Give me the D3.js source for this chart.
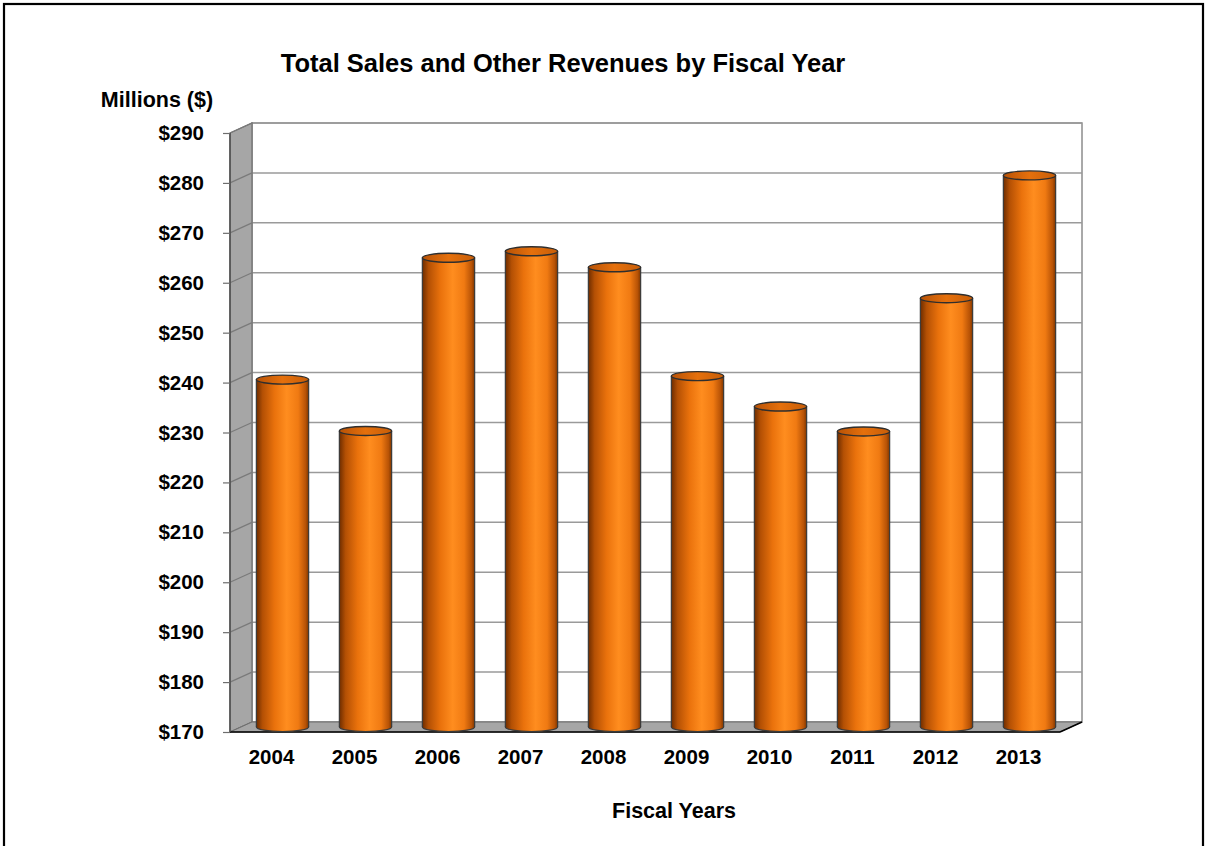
<!DOCTYPE html>
<html>
<head>
<meta charset="utf-8">
<script src="https://cdn.jsdelivr.net/npm/d3@7"></script>
<style>
  html, body { margin: 0; padding: 0; background: #fff; }
  svg { display: block; font-family: "Liberation Sans", Arial, sans-serif; }
</style>
</head>
<body>
<svg id="chart" width="1206" height="846"></svg>
<script>
// Fiscal-year revenue, millions of dollars
const years = ["2004", "2005", "2006", "2007", "2008", "2009", "2010", "2011", "2012", "2013"];
const revenues = [239.6, 229.3, 264.0, 265.3, 262.1, 240.3, 234.2, 229.2, 255.9, 280.5];
const yTicks = [170, 180, 190, 200, 210, 220, 230, 240, 250, 260, 270, 280, 290];

const svg = d3.select("#chart");

// Outer frame
svg.append("rect")
  .attr("x", 4).attr("y", 4).attr("width", 1199).attr("height", 850)
  .attr("fill", "#fff").attr("stroke", "#000").attr("stroke-width", 2.2);

// 3D box geometry: back wall plus a depth offset toward the viewer
const depth = { dx: -22, dy: 10 };
const back = { left: 252, right: 1082, top: 123, bottom: 722 };

const y = d3.scaleLinear().domain([170, 290]).range([back.bottom, back.top]);
const x = d3.scaleBand().domain(years)
  .range([back.left + depth.dx, back.right + depth.dx]).padding(0);

// Back wall
svg.append("rect")
  .attr("x", back.left).attr("y", back.top)
  .attr("width", back.right - back.left).attr("height", back.bottom - back.top)
  .attr("fill", "#fff").attr("stroke", "#8c8c8c").attr("stroke-width", 1.5);

// Horizontal gridlines on back wall
svg.append("g").selectAll("line").data(yTicks).join("line")
  .attr("x1", back.left).attr("x2", back.right)
  .attr("y1", d => y(d)).attr("y2", d => y(d))
  .attr("stroke", "#9a9a9a").attr("stroke-width", 1.5);

// Left side wall
const fl = back.left + depth.dx;
svg.append("path")
  .attr("d", `M${fl},${y(290) + depth.dy} L${back.left},${y(290)} L${back.left},${y(170)} L${fl},${y(170) + depth.dy} Z`)
  .attr("fill", "#a6a6a6").attr("stroke", "#6e6e6e").attr("stroke-width", 1.2);

// Gridlines continuing across the side wall
svg.append("g").selectAll("line").data(yTicks).join("line")
  .attr("x1", fl).attr("x2", back.left)
  .attr("y1", d => y(d) + depth.dy).attr("y2", d => y(d))
  .attr("stroke", "#7a7a7a").attr("stroke-width", 1.2);

// Floor
const fr = back.right + depth.dx;
svg.append("path")
  .attr("d", `M${fl},${y(170) + depth.dy} L${back.left},${y(170)} L${back.right},${y(170)} L${fr},${y(170) + depth.dy} Z`)
  .attr("fill", "#a6a6a6").attr("stroke", "#6e6e6e").attr("stroke-width", 1);
svg.append("line")
  .attr("x1", fl).attr("x2", fr)
  .attr("y1", y(170) + depth.dy).attr("y2", y(170) + depth.dy)
  .attr("stroke", "#000").attr("stroke-width", 1.5);
svg.append("line")
  .attr("x1", fr).attr("x2", back.right)
  .attr("y1", y(170) + depth.dy).attr("y2", y(170))
  .attr("stroke", "#000").attr("stroke-width", 1.5);

// Front vertical axis line
svg.append("line")
  .attr("x1", fl).attr("x2", fl)
  .attr("y1", y(290) + depth.dy).attr("y2", y(170) + depth.dy)
  .attr("stroke", "#4d4d4d").attr("stroke-width", 1.5);

// Y axis ticks and labels on the front plane
const yFront = d3.scaleLinear().domain(y.domain()).range(y.range().map(v => v + depth.dy));
const yAxis = d3.axisLeft(yFront).tickValues(yTicks).tickSize(7).tickPadding(19)
  .tickFormat(d => "$" + d);
const gy = svg.append("g").attr("transform", `translate(${fl},0)`).call(yAxis);
gy.select(".domain").remove();
gy.selectAll(".tick line").attr("stroke", "#6e6e6e").attr("stroke-width", 1.2);
gy.selectAll(".tick text")
  .attr("font-size", 20.5).attr("font-weight", "bold").attr("fill", "#000")
  .attr("font-family", "Liberation Sans, Arial, sans-serif");

// X axis labels
const xAxis = d3.axisBottom(x).tickSize(0).tickPadding(17);
const gx = svg.append("g").attr("transform", `translate(0,${y(170) + depth.dy})`).call(xAxis);
gx.select(".domain").remove();
gx.selectAll(".tick text")
  .attr("font-size", 20.5).attr("font-weight", "bold").attr("fill", "#000")
  .attr("font-family", "Liberation Sans, Arial, sans-serif");

// Cylinder shading
const defs = svg.append("defs");
const grad = defs.append("linearGradient").attr("id", "cyl")
  .attr("x1", "0%").attr("x2", "100%").attr("y1", "0%").attr("y2", "0%");
[[0, "#6e2d00"], [0.12, "#b45004"], [0.35, "#ea720c"], [0.58, "#ff8d1f"], [0.8, "#f07a12"], [0.94, "#b85306"], [1, "#7f3700"]]
  .forEach(([o, c]) => grad.append("stop").attr("offset", o).attr("stop-color", c));
const topGrad = defs.append("linearGradient").attr("id", "cylTop")
  .attr("x1", "0%").attr("x2", "100%").attr("y1", "0%").attr("y2", "0%");
[[0, "#b85206"], [0.5, "#e5700c"], [1, "#c85e08"]]
  .forEach(([o, c]) => topGrad.append("stop").attr("offset", o).attr("stop-color", c));

// Bars sit halfway into the box depth
const barW = x.bandwidth() * 0.63;
const rx = barW / 2, ry = 4.5;
const cx = d => x(d) + x.bandwidth() / 2 + depth.dx / -2;
const yMid = v => y(v) + depth.dy / 2;

const data = years.map((yr, i) => ({ year: yr, value: revenues[i] }));
const bars = svg.append("g").selectAll("g").data(data).join("g");

// bottom cap
bars.append("ellipse")
  .attr("cx", d => cx(d.year)).attr("cy", yMid(170))
  .attr("rx", rx).attr("ry", ry)
  .attr("fill", "url(#cyl)").attr("stroke", "#3a3a3a").attr("stroke-width", 1.2);
// body
bars.append("rect")
  .attr("x", d => cx(d.year) - rx).attr("y", d => yMid(d.value))
  .attr("width", barW).attr("height", d => yMid(170) - yMid(d.value))
  .attr("fill", "url(#cyl)");
bars.append("path")
  .attr("d", d => `M${cx(d.year) - rx},${yMid(d.value)} L${cx(d.year) - rx},${yMid(170)} M${cx(d.year) + rx},${yMid(d.value)} L${cx(d.year) + rx},${yMid(170)}`)
  .attr("stroke", "#3a3a3a").attr("stroke-width", 1.2);
// top cap
bars.append("ellipse")
  .attr("cx", d => cx(d.year)).attr("cy", d => yMid(d.value))
  .attr("rx", rx).attr("ry", ry)
  .attr("fill", "url(#cylTop)").attr("stroke", "#2e2e2e").attr("stroke-width", 1.4);

// Titles
svg.append("text")
  .attr("x", 563).attr("y", 72).attr("text-anchor", "middle")
  .attr("font-size", 25.5).attr("font-weight", "bold")
  .text("Total Sales and Other Revenues by Fiscal Year");
svg.append("text")
  .attr("x", 157).attr("y", 107).attr("text-anchor", "middle")
  .attr("font-size", 21.5).attr("font-weight", "bold")
  .text("Millions ($)");
svg.append("text")
  .attr("x", 674).attr("y", 818).attr("text-anchor", "middle")
  .attr("font-size", 21.5).attr("font-weight", "bold")
  .text("Fiscal Years");
</script>
</body>
</html>
